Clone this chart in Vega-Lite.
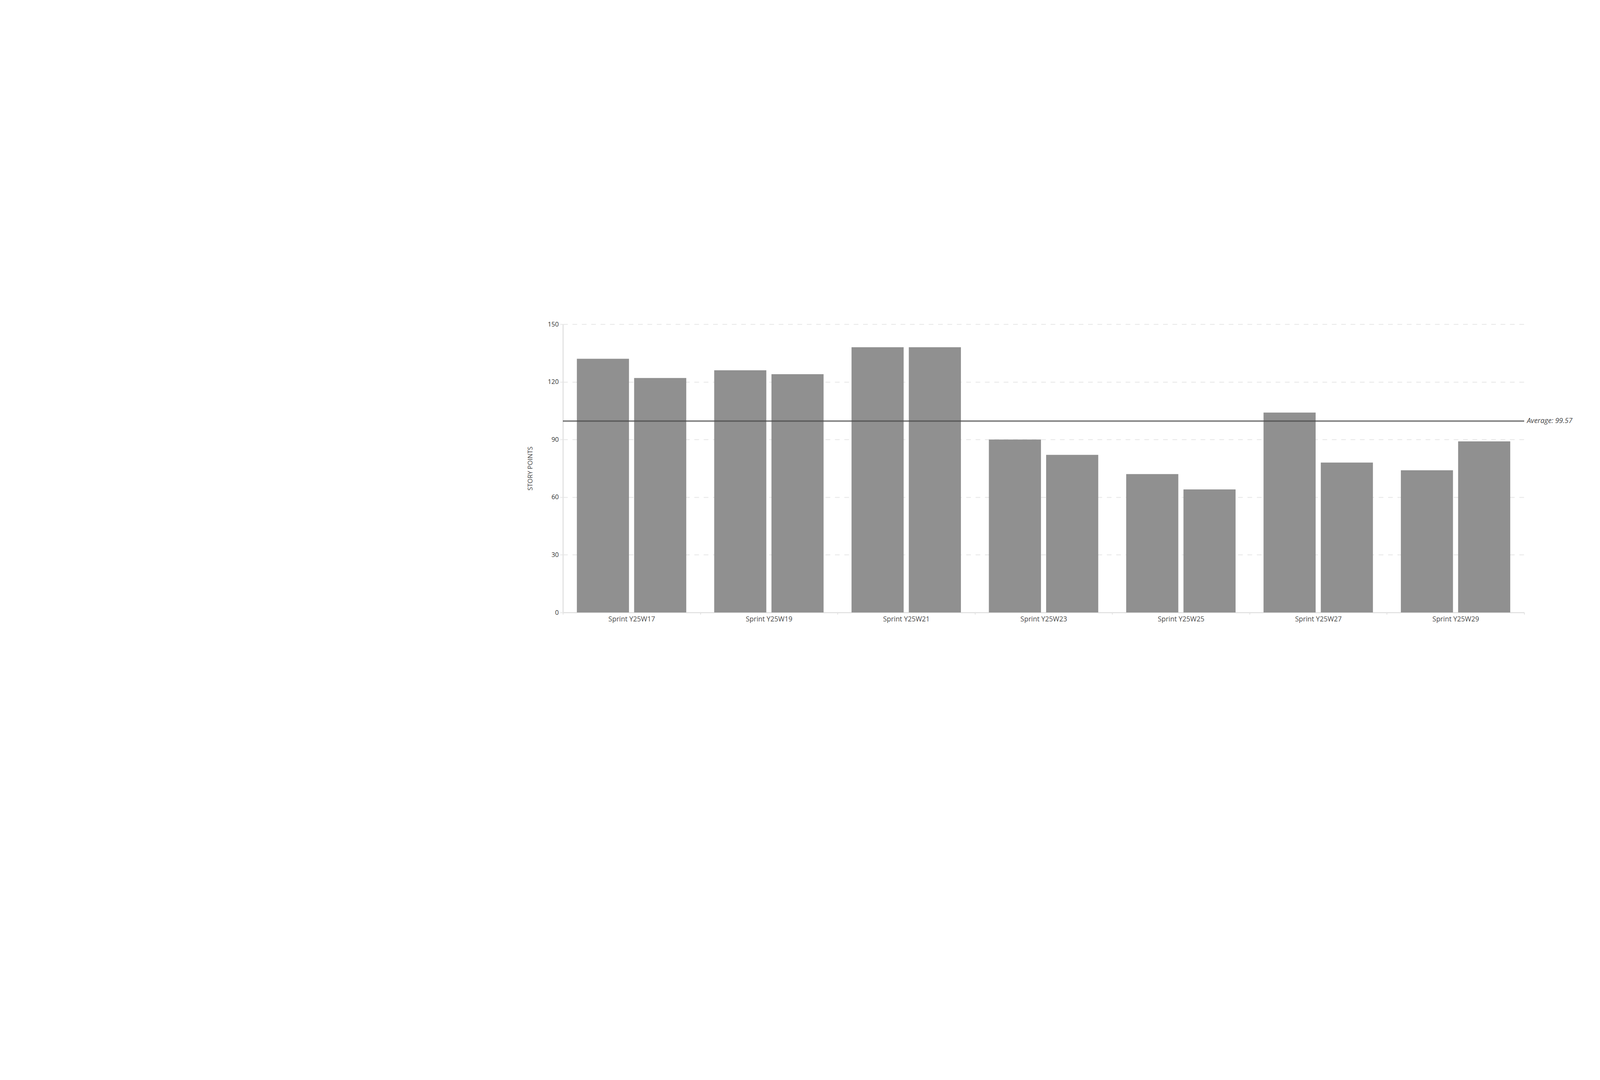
{
  "$schema": "https://vega.github.io/schema/vega-lite/v6.json",
  "autosize": {"type": "none"},
  "padding": {"left": 1441, "top": 830, "right": 1236, "bottom": 1197},
  "width": 2461,
  "height": 738,
  "background": "white",
  "config": {"view": {"stroke": null}, "font": "Open Sans"},
  "datasets": {
    "sprints": [
      {"sprint": "Sprint Y25W17", "series": "Committed", "points": 132},
      {"sprint": "Sprint Y25W17", "series": "Completed", "points": 122},
      {"sprint": "Sprint Y25W19", "series": "Committed", "points": 126},
      {"sprint": "Sprint Y25W19", "series": "Completed", "points": 124},
      {"sprint": "Sprint Y25W21", "series": "Committed", "points": 138},
      {"sprint": "Sprint Y25W21", "series": "Completed", "points": 138},
      {"sprint": "Sprint Y25W23", "series": "Committed", "points": 90},
      {"sprint": "Sprint Y25W23", "series": "Completed", "points": 82},
      {"sprint": "Sprint Y25W25", "series": "Committed", "points": 72},
      {"sprint": "Sprint Y25W25", "series": "Completed", "points": 64},
      {"sprint": "Sprint Y25W27", "series": "Committed", "points": 104},
      {"sprint": "Sprint Y25W27", "series": "Completed", "points": 78},
      {"sprint": "Sprint Y25W29", "series": "Committed", "points": 74},
      {"sprint": "Sprint Y25W29", "series": "Completed", "points": 89}
    ],
    "average": [
      {"label": "Average: 99.57", "value": 99.57}
    ]
  },
  "layer": [
    {
      "data": {"name": "sprints"},
      "mark": {"type": "bar", "color": "#909090"},
      "encoding": {
        "x": {
          "field": "sprint",
          "type": "nominal",
          "sort": null,
          "scale": {
            "domain": ["Sprint Y25W17", "Sprint Y25W19", "Sprint Y25W21", "Sprint Y25W23", "Sprint Y25W25", "Sprint Y25W27", "Sprint Y25W29"],
            "paddingInner": 0,
            "paddingOuter": 0
          },
          "axis": {
            "title": null,
            "tickBand": "extent",
            "labelAngle": 0,
            "labelFontSize": 17.5,
            "labelColor": "#4a4a4a",
            "labelPadding": 3,
            "tickSize": 5,
            "tickColor": "#e0e0e0",
            "tickWidth": 2,
            "domainColor": "#e3e3e3",
            "domainWidth": 3,
            "grid": false
          }
        },
        "xOffset": {
          "field": "series",
          "type": "nominal",
          "sort": ["Committed", "Completed"],
          "scale": {"paddingInner": 0.09, "paddingOuter": 0.244}
        },
        "y": {
          "field": "points",
          "type": "quantitative",
          "scale": {"domain": [0, 150], "nice": false},
          "axis": {
            "values": [0, 30, 60, 90, 120, 150],
            "title": "STORY POINTS",
            "titleFontSize": 16.5,
            "titleFontWeight": "normal",
            "titleColor": "#444",
            "titlePadding": 36,
            "labelFontSize": 16.5,
            "labelColor": "#333",
            "labelPadding": 4,
            "tickSize": 7,
            "tickColor": "#e6e6e6",
            "tickWidth": 2,
            "domainColor": "#e3e3e3",
            "domainWidth": 3,
            "gridDash": [12, 12],
            "gridColor": "#e6e6e6",
            "gridWidth": 2
          }
        }
      }
    },
    {
      "data": {"name": "average"},
      "mark": {"type": "rule", "color": "#494949", "opacity": 0.67, "strokeWidth": 4},
      "encoding": {
        "y": {"field": "value", "type": "quantitative", "scale": {"domain": [0, 150], "nice": false}}
      }
    },
    {
      "data": {"name": "average"},
      "mark": {"type": "text", "align": "left", "baseline": "middle", "dx": 7, "fontStyle": "italic", "fontSize": 18, "color": "#444"},
      "encoding": {
        "x": {"datum": "Sprint Y25W29", "type": "nominal", "bandPosition": 1},
        "y": {"field": "value", "type": "quantitative", "scale": {"domain": [0, 150], "nice": false}},
        "text": {"field": "label"}
      }
    }
  ]
}
